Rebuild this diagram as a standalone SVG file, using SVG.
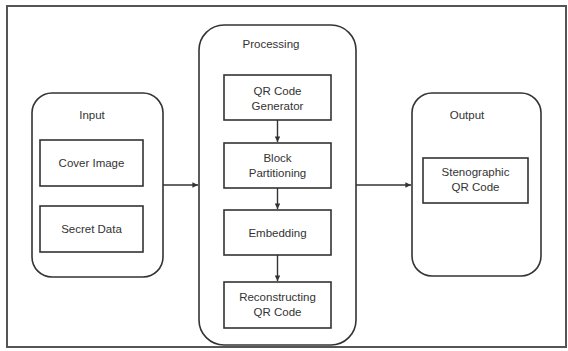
<svg xmlns="http://www.w3.org/2000/svg" width="568" height="351" viewBox="0 0 568 351">
<style>
.frame{fill:#fff;stroke:#555;stroke-width:2}
.grp{fill:#fff;stroke:#333;stroke-width:1.6}
.box{fill:#fff;stroke:#333;stroke-width:1.6}
.lbl{font-family:"Liberation Sans",Arial,sans-serif;font-size:11.5px;fill:#333;text-anchor:middle}
.conn{stroke:#333;stroke-width:1.4;fill:none;marker-end:url(#ah)}
</style>
<defs>
<marker id="ah" viewBox="0 0 6 6" refX="6" refY="3" markerWidth="4" markerHeight="4" orient="auto">
<path d="M0,0 L6,3 L0,6 z" fill="#333"/>
</marker>
</defs>
<rect class="frame" x="7" y="6" width="559" height="341"/>
<g id="input">
<rect class="grp" x="32" y="93" width="131" height="184" rx="20"/>
<text class="lbl" x="92" y="119">Input</text>
</g>
<g id="cover-image">
<rect class="box" x="40" y="140" width="103" height="46"/>
<text class="lbl" x="91.5" y="167">Cover Image</text>
</g>
<g id="secret-data">
<rect class="box" x="40" y="206" width="103" height="46"/>
<text class="lbl" x="91.5" y="233">Secret Data</text>
</g>
<g id="processing">
<rect class="grp" x="199" y="25" width="157" height="320" rx="25"/>
<text class="lbl" x="271" y="48">Processing</text>
</g>
<g id="qr-gen">
<rect class="box" x="224" y="75" width="107" height="45"/>
<text class="lbl" x="277.5" y="95">QR Code</text>
<text class="lbl" x="277.5" y="110">Generator</text>
</g>
<g id="block-part">
<rect class="box" x="224" y="143" width="107" height="45"/>
<text class="lbl" x="277.5" y="162">Block</text>
<text class="lbl" x="277.5" y="177">Partitioning</text>
</g>
<g id="embedding">
<rect class="box" x="224" y="210" width="107" height="45"/>
<text class="lbl" x="277.5" y="237">Embedding</text>
</g>
<g id="reconstruct">
<rect class="box" x="224" y="282" width="107" height="46"/>
<text class="lbl" x="277.5" y="301">Reconstructing</text>
<text class="lbl" x="277.5" y="316">QR Code</text>
</g>
<g id="output">
<rect class="grp" x="412" y="93" width="129" height="183" rx="20"/>
<text class="lbl" x="467" y="119">Output</text>
</g>
<g id="steg-qr">
<rect class="box" x="423" y="158" width="105" height="45"/>
<text class="lbl" x="475.5" y="176">Stenographic</text>
<text class="lbl" x="475.5" y="191">QR Code</text>
</g>
<g id="connectors">
<line class="conn" x1="163" y1="185" x2="198" y2="185"/>
<line class="conn" x1="356" y1="185" x2="411" y2="185"/>
<line class="conn" x1="277.5" y1="120" x2="277.5" y2="142"/>
<line class="conn" x1="277.5" y1="188" x2="277.5" y2="209"/>
<line class="conn" x1="277.5" y1="255" x2="277.5" y2="281"/>
</g>
</svg>
